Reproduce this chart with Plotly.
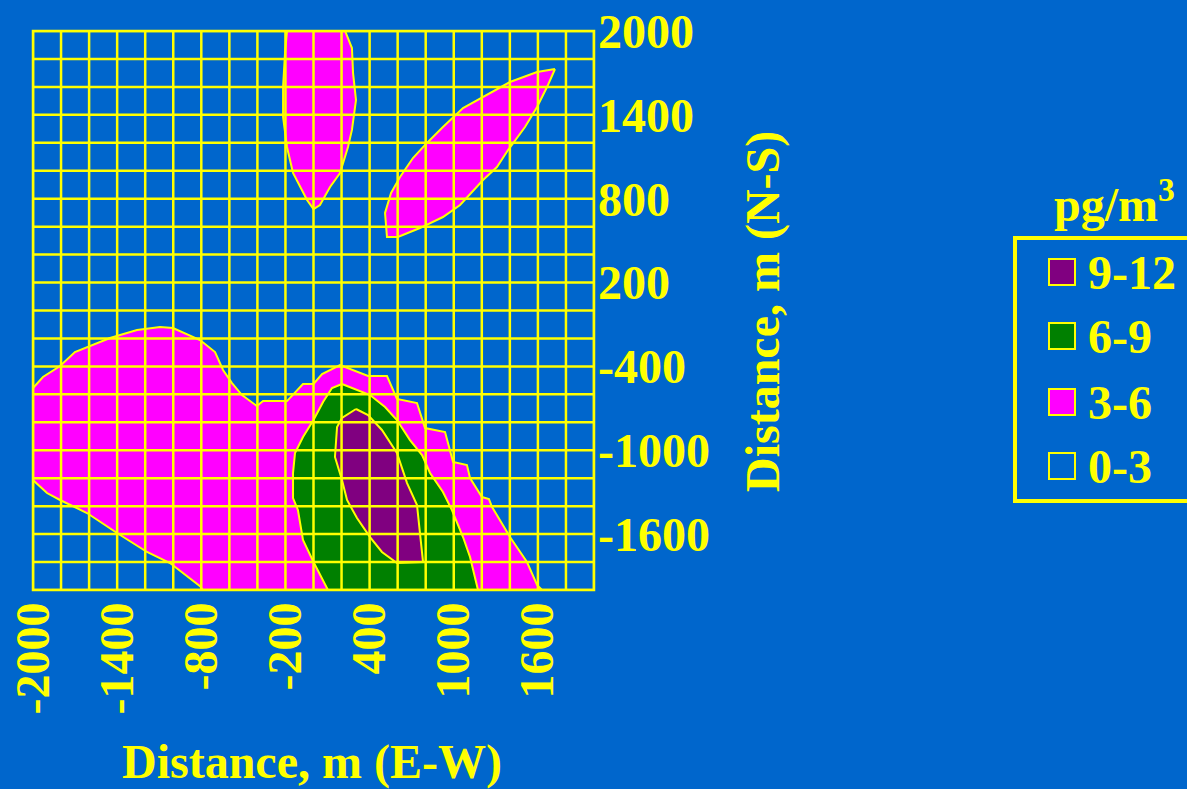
import plotly.graph_objects as go

# ---------------- data ----------------
BG = "#0066CC"
YEL = "#FFFF00"

x_ticks = [-2000, -1400, -800, -200, 400, 1000, 1600]
y_ticks = [2000, 1400, 800, 200, -400, -1000, -1600]
grid_step = 200

legend_labels = ["9-12", "6-9", "3-6", "0-3"]
legend_colors = ["#800080", "#008000", "#FF00FF", BG]

# 3-6 region (large, lower left)
big_x = [-2000, -1929, -1807, -1701, -1451, -1258, -1094, -1002, -809, -702, -645, -581,
         -510, -403, -360, -189, -75, 0, 61, 189, 389, 524, 595, 738, 795, 938, 995, 1094,
         1116, 1201, 1251, 1273, 1401, 1522, 1594, 1629, -788, -809, -1023, -1187, -1401,
         -1615, -1807, -1900, -2000, -2000]
big_y = [-555, -476, -397, -297, -197, -140, -118, -125, -211, -297, -426, -519,
         -605, -684, -648, -648, -526, -526, -455, -390, -469, -469, -633, -662, -841, -870,
         -1084, -1106, -1199, -1335, -1349, -1406, -1621, -1800, -1964, -2000, -2000, -1972,
         -1807, -1728, -1592, -1449, -1356, -1306, -1213, -555]

# 6-9 region
green_x = [203, 132, 68, 0, -75, -132, -146, -146, -111, -75, 0, 103, 1173, 1116, 1066,
           987, 923, 831, 774, 688, 595, 510, 403, 260, 203]
green_y = [-526, -555, -655, -784, -905, -1020, -1163, -1342, -1428, -1642, -1800, -2000,
           -2000, -1764, -1621, -1428, -1299, -1163, -1034, -927, -784, -691, -605, -548, -526]

# 9-12 region
purple_x = [303, 203, 168, 153, 203, 239, 310, 403, 488, 595, 781, 759, 738, 667, 595,
            488, 389, 303]
purple_y = [-705, -769, -834, -1048, -1213, -1356, -1485, -1621, -1728, -1807, -1800,
            -1592, -1392, -1235, -1020, -855, -748, -705]

# 3-6 region (top, near x = 0)
top_x = [-189, 225, 274, 282, 303, 274, 246, 189, 118, 46, 0, -46, -146, -189, -217,
         -217, -203, -189]
top_y = [2000, 2000, 1878, 1699, 1506, 1292, 1170, 984, 884, 755, 726, 791, 984, 1170,
         1385, 1599, 1843, 2000]

# 3-6 region (diagonal, upper right)
diag_x = [1722, 1594, 1401, 1209, 1066, 923, 809, 709, 617, 553, 510, 524, 602, 759, 923,
          1045, 1209, 1308, 1387, 1508, 1594, 1665, 1722]
diag_y = [1728, 1707, 1635, 1528, 1449, 1313, 1199, 1091, 955, 841, 698, 526, 526, 590,
          669, 755, 934, 1027, 1148, 1313, 1456, 1599, 1728]

# ---------------- figure ----------------
FONT = "Liberation Serif, Times New Roman, serif"
FS = 48

fig = go.Figure()

regions = [
    (big_x, big_y, "#FF00FF"),
    (green_x, green_y, "#008000"),
    (purple_x, purple_y, "#800080"),
    (top_x, top_y, "#FF00FF"),
    (diag_x, diag_y, "#FF00FF"),
]
for xs, ys, col in regions:
    fig.add_trace(go.Scatter(
        x=xs, y=ys, mode="lines", fill="toself", fillcolor=col,
        line=dict(color=YEL, width=2), hoverinfo="skip", showlegend=False,
    ))

# grid drawn above the filled regions
shapes = []
for v in range(-2000, 2001, grid_step):
    shapes.append(dict(type="line", xref="x", yref="y", x0=v, x1=v, y0=-2000, y1=2000,
                       line=dict(color=YEL, width=2.5), layer="above"))
    shapes.append(dict(type="line", xref="x", yref="y", x0=-2000, x1=2000, y0=v, y1=v,
                       line=dict(color=YEL, width=2.5), layer="above"))

# plot-area border (unclipped)
shapes.append(dict(type="rect", xref="paper", yref="paper", x0=0, x1=1, y0=0, y1=1,
                   line=dict(color=YEL, width=2.5), fillcolor="rgba(0,0,0,0)",
                   layer="above"))

# ---- custom legend (pixel helpers -> paper coords) ----
L, T, W, H = 33, 31, 561, 559


def px(xp):
    return (xp - L) / W


def py(yp):
    return (T + H - yp) / H


shapes.append(dict(type="rect", xref="paper", yref="paper",
                   x0=px(1015), x1=px(1200), y0=py(238), y1=py(501),
                   line=dict(color=YEL, width=4), fillcolor="rgba(0,0,0,0)", layer="above"))

annotations = []
row_y = [272, 336, 402, 466]
for lab, col, yc in zip(legend_labels, legend_colors, row_y):
    shapes.append(dict(type="rect", xref="paper", yref="paper",
                       x0=px(1049), x1=px(1075), y0=py(yc + 13), y1=py(yc - 13),
                       line=dict(color=YEL, width=2), fillcolor=col, layer="above"))
    annotations.append(dict(xref="paper", yref="paper", x=px(1086), y=py(yc),
                            xanchor="left", yanchor="middle", showarrow=False,
                            text="<b>" + lab + "</b>",
                            font=dict(family=FONT, size=FS, color=YEL)))

annotations.append(dict(xref="paper", yref="paper", x=px(1114), y=py(201),
                        xanchor="center", yanchor="middle", showarrow=False,
                        text="<b>pg/m<sup>3</sup></b>",
                        font=dict(family=FONT, size=FS, color=YEL)))

# axis titles
annotations.append(dict(xref="paper", yref="paper", x=px(312), y=py(762),
                        xanchor="center", yanchor="middle", showarrow=False,
                        text="<b>Distance, m (E-W)</b>",
                        font=dict(family=FONT, size=FS, color=YEL)))
annotations.append(dict(xref="paper", yref="paper", x=px(763), y=py(312),
                        xanchor="center", yanchor="middle", showarrow=False,
                        textangle=-90,
                        text="<b>Distance, m (N-S)</b>",
                        font=dict(family=FONT, size=FS, color=YEL)))

fig.update_layout(
    width=1187, height=789, autosize=False,
    margin=dict(l=L, r=1187 - L - W, t=T, b=789 - T - H, pad=0, autoexpand=False),
    paper_bgcolor=BG, plot_bgcolor=BG,
    showlegend=False, hovermode=False,
    shapes=shapes, annotations=annotations,
    xaxis=dict(range=[-2000, 2000], showgrid=False, zeroline=False, showline=False,
               tickmode="array", tickvals=x_ticks, ticktext=[str(v) for v in x_ticks],
               tickangle=-90, ticks="", automargin=False, ticklabelstandoff=2,
               tickfont=dict(family=FONT, size=FS, color=YEL, weight="bold"),
               fixedrange=True),
    yaxis=dict(range=[-2000, 2000], side="right", showgrid=False, zeroline=False,
               showline=False, tickmode="array", tickvals=y_ticks,
               ticktext=[str(v) for v in y_ticks], ticks="", automargin=False,
               ticklabelstandoff=3,
               tickfont=dict(family=FONT, size=FS, color=YEL, weight="bold"),
               fixedrange=True),
)

fig.write_html(
    "out.html",
    config={"displayModeBar": False},
    post_script="document.body.style.margin='0';document.body.style.background='#0066CC';",
)
